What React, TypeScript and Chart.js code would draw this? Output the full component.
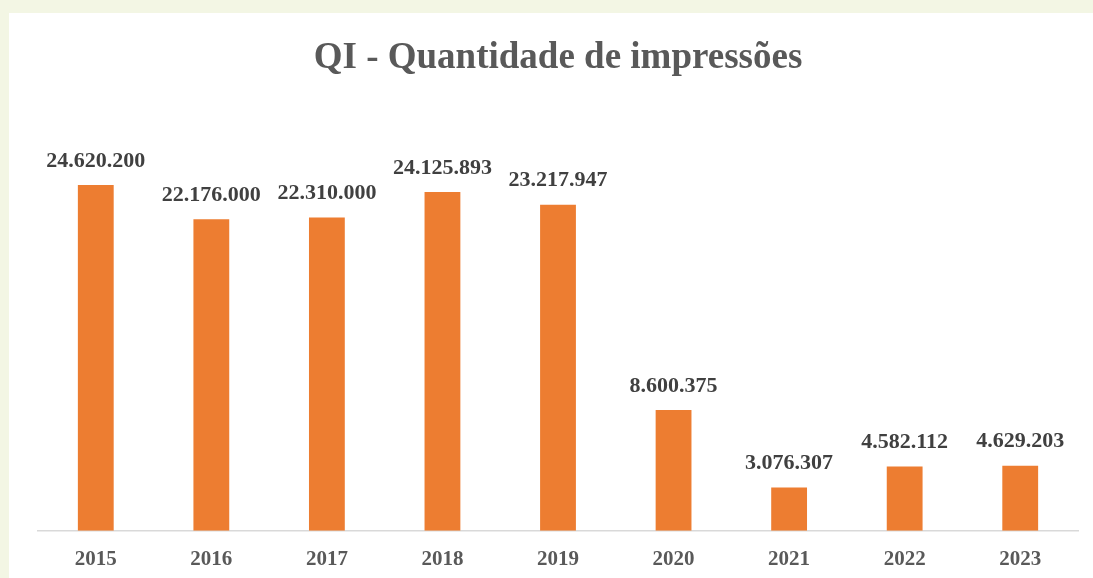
import React, { useEffect, useRef } from "react";
import { Chart, registerables } from "chart.js";

Chart.register(...registerables);

const categories = ["2015", "2016", "2017", "2018", "2019", "2020", "2021", "2022", "2023"];
const impressions = [24620200, 22176000, 22310000, 24125893, 23217947, 8600375, 3076307, 4582112, 4629203];
const valueLabels = ["24.620.200", "22.176.000", "22.310.000", "24.125.893", "23.217.947", "8.600.375", "3.076.307", "4.582.112", "4.629.203"];
const titleText = "QI - Quantidade de impressões";

const FONT = "'Liberation Serif', 'Times New Roman', serif";

const valueLabelPlugin = {
  id: "valueLabels",
  afterDatasetsDraw(chart: any) {
    const ctx = chart.ctx;
    const meta = chart.getDatasetMeta(0);
    ctx.save();
    ctx.font = `bold 22px ${FONT}`;
    ctx.fillStyle = "#404040";
    ctx.textAlign = "center";
    ctx.textBaseline = "middle";
    meta.data.forEach((bar: any, i: number) => {
      ctx.fillText(valueLabels[i], bar.x, bar.y - 24);
    });
    ctx.restore();
  },
};

export default function App() {
  const ref = useRef<HTMLCanvasElement>(null);
  useEffect(() => {
    document.body.style.margin = "0";
    const chart = new Chart(ref.current!, {
      type: "bar",
      data: {
        labels: categories,
        datasets: [
          {
            data: impressions,
            backgroundColor: "#ED7D31",
            categoryPercentage: 1,
            barPercentage: 0.31,
          },
        ],
      },
      options: {
        animation: false,
        responsive: false,
        maintainAspectRatio: false,
        layout: { padding: { left: 29, right: 15, top: 0, bottom: -10 } },
        plugins: {
          legend: { display: false },
          tooltip: { enabled: false },
          title: {
            display: true,
            text: titleText,
            color: "#595959",
            font: { family: FONT, size: 37, weight: "bold" },
            padding: { top: 23, bottom: 29 },
          },
        },
        scales: {
          x: {
            grid: { display: false, drawTicks: false },
            border: { display: true, color: "#d9d9d9", width: 1.5 },
            ticks: {
              color: "#595959",
              padding: 16,
              font: { family: FONT, size: 21, weight: "bold" },
            },
          },
          y: {
            display: false,
            min: 0,
            max: 30000000,
          },
        },
      },
      plugins: [valueLabelPlugin],
    });
    return () => chart.destroy();
  }, []);
  return (
    <div style={{ width: 1093, height: 578, background: "#f3f6e4", position: "relative", overflow: "hidden" }}>
      <div style={{ position: "absolute", left: 9, top: 13, width: 1084, height: 565, background: "#ffffff" }}>
        <canvas ref={ref} width={1084} height={565} style={{ display: "block" }} />
      </div>
    </div>
  );
}
